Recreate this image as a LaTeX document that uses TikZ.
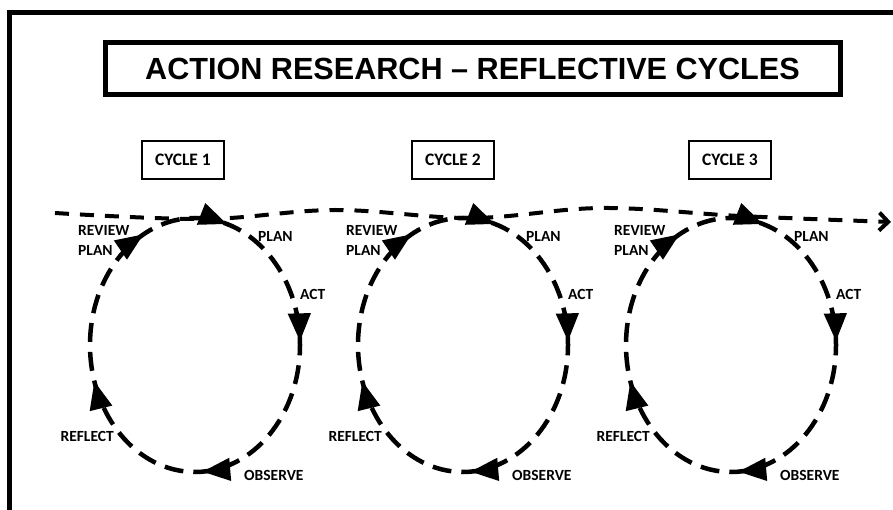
\documentclass[tikz,border=0pt]{standalone}
\usepackage{fontspec}
\setmainfont{Liberation Sans}
\newfontfamily\labelfont{Carlito}
\usetikzlibrary{arrows.meta,decorations.markings,calc}

\tikzset{
  frame/.style={line width=5pt},
  titlebox/.style={draw, line width=5pt, minimum width=735pt, minimum height=52.5pt,
    inner sep=0pt, font=\bfseries\fontsize{30.6}{31}\selectfont},
  cyclebox/.style={draw, line width=2pt, minimum width=82pt, minimum height=38pt,
    inner sep=0pt, font=\labelfont\bfseries\fontsize{17.5}{18}\selectfont},
  lbl/.style={font=\labelfont\bfseries\fontsize{15.5}{15.5}\selectfont, inner sep=0pt, anchor=west},
  lblr/.style={lbl, anchor=east},
  ring/.style={line width=4.5pt, dash pattern=on 19pt off 10pt},
  thread/.style={line width=4pt, dash pattern=on 14pt off 11pt},
  headtip/.tip={Triangle[length=28pt,width=22pt]},
  stage/.style={postaction={decorate}, decoration={markings,
    mark=at position 0.045 with {\arrow{headtip}},
    mark=at position 0.245 with {\arrow{headtip}},
    mark=at position 0.490 with {\arrow{headtip}},
    mark=at position 0.700 with {\arrow{headtip}},
    mark=at position 0.925 with {\arrow{headtip}}}},
}

\begin{document}
\begin{tikzpicture}[x=1pt,y=-1pt]
\useasboundingbox (0,0) rectangle (893,510);
\clip (0,0) rectangle (893,510);
\fill[white] (0,0) rectangle (893,510);

% outer frame (only its top and left sides fall on the page)
\draw[frame] (9.5,530) -- (9.5,12.5) -- (910,12.5);

% heading
\node[titlebox] (title) at (472.5,68.75) {ACTION RESEARCH – REFLECTIVE CYCLES};

% cycle captions
\node[cyclebox] (cy1) at (183,160) {CYCLE 1};
\node[cyclebox] (cy2) at (453,160) {CYCLE 2};
\node[cyclebox] (cy3) at (730,160) {CYCLE 3};

% the three reflective cycles
\foreach \i/\cx in {1/195,2/463,3/731}{
  \coordinate (c\i) at (\cx,345);
  \draw[ring, stage] ($(c\i)+(0,-127)$) arc[start angle=-90, end angle=270, x radius=105, y radius=127];
  \node[lbl] (rv\i) at (\cx-117,230) {REVIEW};
  \node[lbl] (rp\i) at (\cx-117,250) {PLAN};
  \node[lbl] (pl\i) at (\cx+63,236) {PLAN};
  \node[lbl] (ac\i) at (\cx+105,294) {ACT};
  \node[lblr] (rf\i) at (\cx-81,436) {REFLECT};
  \node[lbl] (ob\i) at (\cx+49,475) {OBSERVE};
}

% the running thread through all cycles
\coordinate (s0) at (55,213);
\coordinate (s1) at (205,219);
\coordinate (s2) at (335,210);
\coordinate (s3) at (472,218);
\coordinate (s4) at (602,208);
\coordinate (s5) at (740,216);
\coordinate (s6) at (891,222);
\draw[thread, -{Straight Barb[length=9pt,width=18pt]}]
  plot[smooth, tension=0.6] coordinates {(s0) (s1) (s2) (s3) (s4) (s5) (s6)};
\end{tikzpicture}
\end{document}
